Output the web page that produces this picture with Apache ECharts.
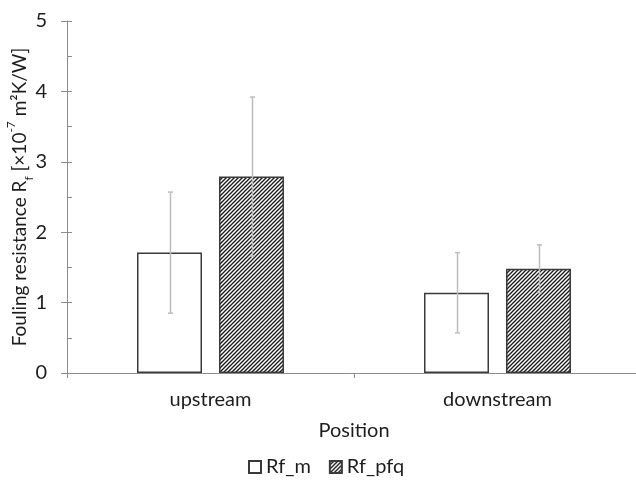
<!DOCTYPE html>
<html>
<head>
<meta charset="utf-8">
<script src="https://cdn.jsdelivr.net/npm/echarts@6/dist/echarts.min.js"></script>
<style>html,body{margin:0;padding:0;background:#fff}#c{width:636px;height:480px}</style>
</head>
<body>
<div id="c"></div>
<script>
var categories = ['upstream', 'downstream'];
var seriesNames = ['Rf_m', 'Rf_pfq'];
var rfM = [1.71, 1.14];
var rfPfq = [2.79, 1.48];
var rfMErr = [0.86, 0.57];
var rfPfqErr = [1.13, 0.34];
var yTicks = [0, 1, 2, 3, 4, 5];

var FONT = 'Lato';
var TXT = '#1e1e1e';
var BAR_W = 65;
var GAP = 17;

function hatch() {
  var c = document.createElement('canvas');
  c.width = 4; c.height = 4;
  var ctx = c.getContext('2d');
  ctx.fillStyle = '#fff';
  ctx.fillRect(0, 0, 4, 4);
  ctx.strokeStyle = '#1a1a1a';
  ctx.lineWidth = 1.3;
  [0, 4, 8].forEach(function (k) {
    ctx.beginPath();
    ctx.moveTo(k - 5, 5);
    ctx.lineTo(k + 1, -1);
    ctx.stroke();
  });
  return c;
}

var chart = echarts.init(document.getElementById('c'), null, {renderer: 'canvas'});

function errSeries(idx, vals, errs) {
  return {
    type: 'custom',
    name: seriesNames[idx] + '_err',
    z: 10,
    silent: true,
    data: vals.map(function (v, i) { return [i, v - errs[i], v + errs[i]]; }),
    renderItem: function (params, api) {
      var lo = api.coord([api.value(0), api.value(1)]);
      var hi = api.coord([api.value(0), api.value(2)]);
      var off = (idx === 0 ? -1 : 1) * (BAR_W + GAP) / 2;
      var x = Math.round(lo[0] + off) + 0.5;
      var cap = 2.5;
      var st = {stroke: '#bdbdbd', lineWidth: 1.5};
      return {
        type: 'group',
        children: [
          {type: 'line', shape: {x1: x, y1: lo[1], x2: x, y2: hi[1]}, style: st},
          {type: 'line', shape: {x1: x - cap, y1: lo[1], x2: x + cap, y2: lo[1]}, style: st},
          {type: 'line', shape: {x1: x - cap, y1: hi[1], x2: x + cap, y2: hi[1]}, style: st}
        ]
      };
    }
  };
}

var option = {
  animation: false,
  backgroundColor: '#fff',
  textStyle: {fontFamily: FONT},
  grid: {left: 67, top: 21, width: 574, height: 352, containLabel: false, outerBoundsMode: 'none'},
  legend: {
    data: seriesNames,
    top: 452,
    left: 243,
    icon: 'rect',
    itemWidth: 12,
    itemHeight: 12,
    itemGap: 18,
    textStyle: {fontFamily: FONT, fontSize: 20, color: TXT}
  },
  xAxis: {
    type: 'category',
    data: categories,
    boundaryGap: true,
    name: 'Position',
    nameLocation: 'middle',
    nameGap: 48,
    nameMoveOverlap: false,
    nameTextStyle: {fontFamily: FONT, fontSize: 20, color: TXT},
    axisLine: {lineStyle: {color: '#8c8c8c', width: 1}},
    axisTick: {show: true, length: 5, lineStyle: {color: '#8c8c8c'}},
    axisLabel: {fontFamily: FONT, fontSize: 20, color: TXT, margin: 17},
    splitLine: {show: false}
  },
  yAxis: [{
    type: 'value',
    min: yTicks[0],
    max: yTicks[yTicks.length - 1],
    interval: 1,
    name: '{n|Fouling resistance R}{sub|f}{n| [×10}{sup|-7}{n| m²K/W]}',
    nameLocation: 'middle',
    nameGap: 36,
    nameMoveOverlap: false,
    nameTextStyle: {
      fontFamily: FONT, fontSize: 19, color: TXT,
      rich: {
        n: {fontFamily: FONT, fontSize: 19, color: TXT, lineHeight: 23},
        sub: {fontFamily: FONT, fontSize: 12, color: TXT, lineHeight: 12, verticalAlign: 'bottom', padding: [0, 0, -4, 0]},
        sup: {fontFamily: FONT, fontSize: 12, color: TXT, lineHeight: 12, verticalAlign: 'top', padding: [-3, 0, 0, 0]}
      }
    },
    axisLine: {show: true, lineStyle: {color: '#8c8c8c', width: 1}},
    axisTick: {show: true, length: 6, lineStyle: {color: '#8c8c8c'}},
    axisLabel: {fontFamily: FONT, fontSize: 20, color: TXT, margin: 20},
    splitLine: {show: false}
  }, {
    type: 'value',
    position: 'left',
    min: yTicks[0],
    max: yTicks[yTicks.length - 1],
    interval: 0.5,
    axisLine: {show: false},
    axisTick: {show: true, inside: true, length: 5, lineStyle: {color: '#8c8c8c'}},
    axisLabel: {show: false},
    splitLine: {show: false}
  }],
  series: [{
    name: seriesNames[0],
    type: 'bar',
    data: rfM,
    barWidth: BAR_W,
    barGap: (GAP / BAR_W * 100) + '%',
    itemStyle: {color: '#ffffff', borderColor: '#3a3a3a', borderWidth: 1.5}
  }, {
    name: seriesNames[1],
    type: 'bar',
    data: rfPfq,
    barWidth: BAR_W,
    itemStyle: {color: {image: hatch(), repeat: 'repeat'}, borderColor: '#3a3a3a', borderWidth: 1.5}
  },
  errSeries(0, rfM, rfMErr),
  errSeries(1, rfPfq, rfPfqErr)
  ]
};
chart.setOption(option);
</script>
</body>
</html>
